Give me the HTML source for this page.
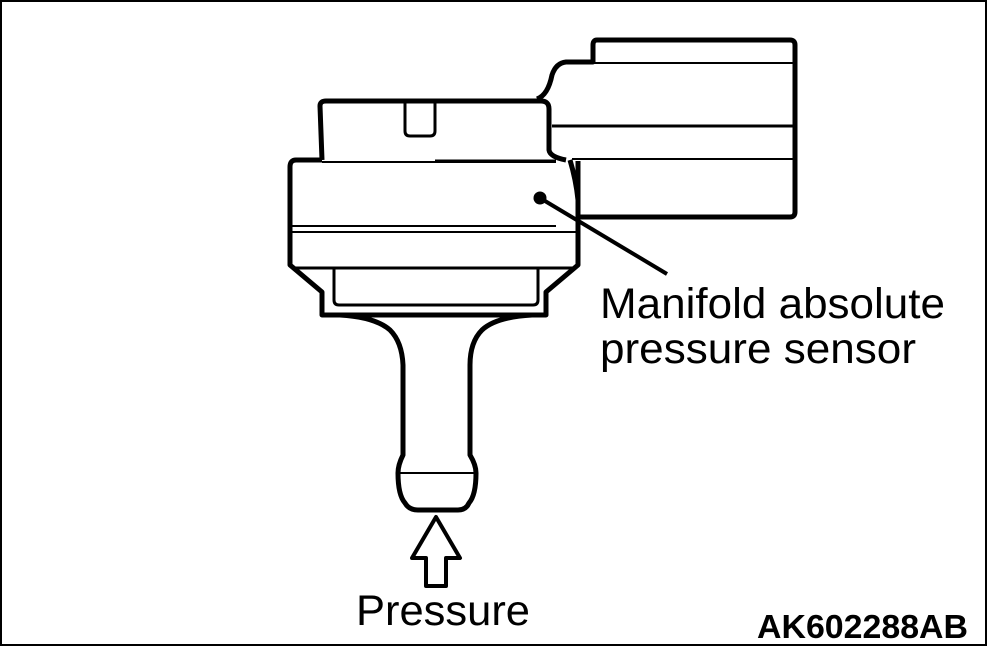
<!DOCTYPE html>
<html><head><style>body{margin:0;background:#fff}svg{display:block}</style></head><body>
<svg width="988" height="647" viewBox="0 0 988 647" xmlns="http://www.w3.org/2000/svg">
<rect x="1" y="1" width="985" height="644" fill="#fff" stroke="#000" stroke-width="2"/>
<g fill="none" stroke="#000" stroke-linejoin="round">
<path d="M578,161 L578,217 L790,217 Q795,217 795,212 L795,45 Q795,40 790,40 L597,40 Q593,40 593,45 L593,62 L566,62 Q556,63 552,75 Q548,95 537,99" stroke-width="5"/>
<line x1="593" y1="63" x2="795" y2="63" stroke-width="2"/>
<line x1="552" y1="126" x2="795" y2="126" stroke-width="3"/>
<line x1="572" y1="159" x2="795" y2="159" stroke-width="2"/>
<path d="M322,160 L320,106 Q320,101 326,101 L541,101 Q549,101 549,109 L549,150 Q550,157 566,160" stroke-width="5"/>
<path d="M405,101 L405,131 Q405,136 410,136 L430,136 Q435,136 435,131 L435,101" stroke-width="3"/>
<path d="M322,160 L296,160 Q290,160 290,167 L290,265 L322,292 L322,315 L546,315 L546,292 L578,265 L578,200 Q576,180 570,160" stroke-width="5"/>
<line x1="322" y1="162" x2="556" y2="162" stroke-width="2"/>
<line x1="435" y1="161" x2="556" y2="161" stroke-width="3"/>
<line x1="292" y1="226" x2="556" y2="226" stroke-width="2"/>
<line x1="292" y1="232" x2="576" y2="232" stroke-width="2"/>
<line x1="292" y1="268" x2="576" y2="268" stroke-width="3"/>
<path d="M334,268 L334,300 Q334,305 339,305 L533,305 Q538,305 538,300 L538,268" stroke-width="3"/>
<path d="M340,315 Q375,317 390,330 Q402,342 403,365 L403,455 Q398,465 398,473 Q398,495 405,503 Q409,510 418,510 L458,510 Q466,510 469,503 Q476,495 476,473 Q476,465 470,455 L470,365 Q470,342 482,330 Q496,317 532,315" stroke-width="5"/>
<line x1="399" y1="473" x2="475" y2="473" stroke-width="2"/>
<path d="M436,517 L460,558 L446,558 L446,586 L426,586 L426,558 L412,558 Z" stroke-width="4"/>
<line x1="540" y1="198" x2="667" y2="274" stroke-width="4"/>
</g>
<circle cx="540" cy="198" r="6.5" fill="#000"/>
<g font-family="Liberation Sans, Arial, sans-serif" fill="#000">
<text x="600" y="318" font-size="43" textLength="345" lengthAdjust="spacingAndGlyphs">Manifold absolute</text>
<text x="600" y="363" font-size="43" textLength="316" lengthAdjust="spacingAndGlyphs">pressure sensor</text>
<text x="356" y="625" font-size="43" textLength="174" lengthAdjust="spacingAndGlyphs">Pressure</text>
<text x="757" y="638" font-size="33" font-weight="bold" textLength="211" lengthAdjust="spacingAndGlyphs">AK602288AB</text>
</g>
</svg>
</body></html>
